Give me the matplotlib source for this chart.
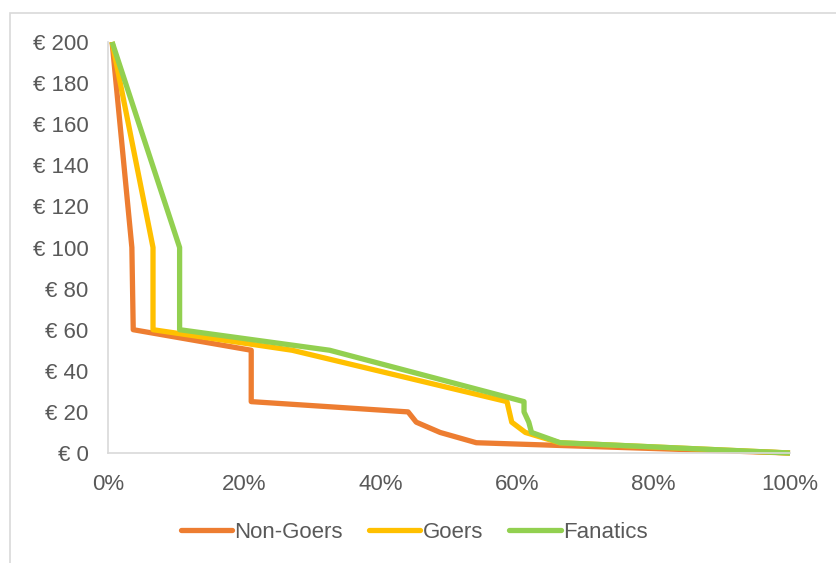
import matplotlib
matplotlib.use("Agg")
import matplotlib.pyplot as plt
from matplotlib.patches import Rectangle
from matplotlib.ticker import FuncFormatter, MultipleLocator

plt.rcParams["font.family"] = ["Liberation Sans", "DejaVu Sans"]

# share of respondents (x) willing to pay at least the price (y)
nongoers_x = [0.006, 0.035, 0.037, 0.21, 0.21, 0.44, 0.452, 0.487, 0.54, 1.0]
nongoers_y = [200, 100, 60, 50, 25, 20, 15, 10, 5, 0]
goers_x = [0.006, 0.066, 0.066, 0.27, 0.585, 0.592, 0.612, 0.662, 1.0]
goers_y = [200, 100, 60, 50, 25, 15, 10, 5, 0]
fanatics_x = [0.006, 0.105, 0.105, 0.325, 0.61, 0.61, 0.617, 0.621, 0.663, 1.0]
fanatics_y = [200, 100, 60, 50, 25, 20, 15, 10, 5, 0]

series = [
    ("Non-Goers", nongoers_x, nongoers_y, "#ED7D31"),
    ("Goers", goers_x, goers_y, "#FFC000"),
    ("Fanatics", fanatics_x, fanatics_y, "#92D050"),
]

TEXT = "#595959"
AXIS = "#D9D9D9"

fig = plt.figure(figsize=(8.36, 5.63), dpi=100)
fig.patches.append(Rectangle((10 / 836, -0.1), 1.2, 1.1 - 13 / 563,
                             transform=fig.transFigure, fill=False,
                             edgecolor=AXIS, linewidth=1.2))
ax = fig.add_axes([108 / 836, 1 - 453 / 563, 682 / 836, 411 / 563])

for name, xs, ys, color in series:
    ax.plot(xs, ys, color=color, linewidth=3.8, label=name, clip_on=False,
            solid_joinstyle="round", solid_capstyle="butt")

ax.set_xlim(0, 1)
ax.set_ylim(0, 200)
ax.xaxis.set_major_locator(MultipleLocator(0.2))
ax.yaxis.set_major_locator(MultipleLocator(20))
ax.xaxis.set_major_formatter(FuncFormatter(lambda v, _: f"{v * 100:.0f}%"))
ax.yaxis.set_major_formatter(FuncFormatter(lambda v, _: f"€ {v:.0f}"))

for side in ("top", "right"):
    ax.spines[side].set_visible(False)
for side in ("left", "bottom"):
    ax.spines[side].set_color(AXIS)
    ax.spines[side].set_linewidth(1.2)
ax.tick_params(axis="both", length=0, labelsize=16, colors=TEXT)
ax.tick_params(axis="y", pad=14)
ax.tick_params(axis="x", pad=15)

leg = fig.legend(loc="center", bbox_to_anchor=(414 / 836, 1 - 532 / 563),
                 ncol=3, frameon=False, fontsize=16, handlelength=2.3,
                 handletextpad=0.1, columnspacing=1.2)
for t in leg.get_texts():
    t.set_color(TEXT)
for h in leg.get_lines():
    h.set_solid_capstyle("round")

fig.savefig("out.png", dpi=100)
